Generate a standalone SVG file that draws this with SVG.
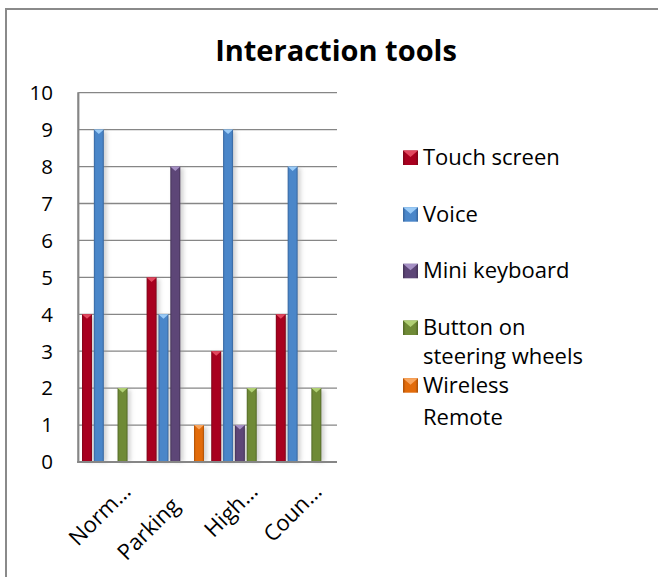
<svg xmlns="http://www.w3.org/2000/svg" width="658" height="577" viewBox="0 0 658 577">
<style>
text{font-family:"Open Sans","Noto Sans","Liberation Sans",sans-serif;fill:#000}
.title{font-size:29px;font-weight:bold;text-anchor:middle}
.ylab{font-size:20.5px;text-anchor:end}
.xlab{font-size:22px;text-anchor:end}
.leg{font-size:22px}
.grid{stroke:#868686;stroke-width:1.3;fill:none}
.axis{stroke:#868686;stroke-width:2.2;fill:none}
.shadow{fill:#9a9a9a;opacity:0.45}
.red{fill:url(#gRed)} .redT{fill:#e2485f}
.blue{fill:url(#gBlue)} .blueT{fill:#9acbf7}
.purple{fill:url(#gPurple)} .purpleT{fill:#a590c4}
.green{fill:url(#gGreen)} .greenT{fill:#b0cf74}
.orange{fill:url(#gOrange)} .orangeT{fill:#f8a55e}
</style>
<defs>
<linearGradient id="gRed" x1="0" x2="1" y1="0" y2="0"><stop offset="0" stop-color="#7d0618"/><stop offset="0.18" stop-color="#a8001f"/><stop offset="0.82" stop-color="#a8001f"/><stop offset="1" stop-color="#7d0618"/></linearGradient>
<linearGradient id="gBlue" x1="0" x2="1" y1="0" y2="0"><stop offset="0" stop-color="#36649c"/><stop offset="0.18" stop-color="#4a86c9"/><stop offset="0.82" stop-color="#4a86c9"/><stop offset="1" stop-color="#36649c"/></linearGradient>
<linearGradient id="gPurple" x1="0" x2="1" y1="0" y2="0"><stop offset="0" stop-color="#433256"/><stop offset="0.18" stop-color="#5d4677"/><stop offset="0.82" stop-color="#5d4677"/><stop offset="1" stop-color="#433256"/></linearGradient>
<linearGradient id="gGreen" x1="0" x2="1" y1="0" y2="0"><stop offset="0" stop-color="#526826"/><stop offset="0.18" stop-color="#6f8a36"/><stop offset="0.82" stop-color="#6f8a36"/><stop offset="1" stop-color="#526826"/></linearGradient>
<linearGradient id="gOrange" x1="0" x2="1" y1="0" y2="0"><stop offset="0" stop-color="#a94f07"/><stop offset="0.18" stop-color="#e26b0a"/><stop offset="0.82" stop-color="#e26b0a"/><stop offset="1" stop-color="#a94f07"/></linearGradient>
<filter id="blur" x="-1" y="-0.2" width="3" height="1.4"><feGaussianBlur stdDeviation="2.2"/></filter>
</defs>
<rect x="0" y="0" width="658" height="577" fill="#fff"/>
<rect x="6" y="9" width="700" height="620" fill="none" stroke="#8a8a8a" stroke-width="2"/>

<text class="title" x="336" y="61">Interaction tools</text>

<g id="gridlines">
<line class="grid" x1="78.3" y1="92.7" x2="337" y2="92.7"/>
<line class="grid" x1="78.3" y1="129.6" x2="337" y2="129.6"/>
<line class="grid" x1="78.3" y1="166.6" x2="337" y2="166.6"/>
<line class="grid" x1="78.3" y1="203.5" x2="337" y2="203.5"/>
<line class="grid" x1="78.3" y1="240.4" x2="337" y2="240.4"/>
<line class="grid" x1="78.3" y1="277.4" x2="337" y2="277.4"/>
<line class="grid" x1="78.3" y1="314.3" x2="337" y2="314.3"/>
<line class="grid" x1="78.3" y1="351.2" x2="337" y2="351.2"/>
<line class="grid" x1="78.3" y1="388.1" x2="337" y2="388.1"/>
<line class="grid" x1="78.3" y1="425.1" x2="337" y2="425.1"/>
</g>

<g id="y-axis-labels">
<text class="ylab" x="53" y="100">10</text>
<text class="ylab" x="53" y="136.9">9</text>
<text class="ylab" x="53" y="173.9">8</text>
<text class="ylab" x="53" y="210.8">7</text>
<text class="ylab" x="53" y="247.7">6</text>
<text class="ylab" x="53" y="284.7">5</text>
<text class="ylab" x="53" y="321.6">4</text>
<text class="ylab" x="53" y="358.5">3</text>
<text class="ylab" x="53" y="395.4">2</text>
<text class="ylab" x="53" y="432.4">1</text>
<text class="ylab" x="53" y="469.3">0</text>
</g>

<g id="bar-shadows" filter="url(#blur)">
<rect class="shadow" x="85" y="316" width="10" height="146"/>
<rect class="shadow" x="96.8" y="131" width="10" height="331"/>
<rect class="shadow" x="120.5" y="390" width="10" height="72"/>
<rect class="shadow" x="149.6" y="279" width="10" height="183"/>
<rect class="shadow" x="161.4" y="316" width="10" height="146"/>
<rect class="shadow" x="173.3" y="168" width="10" height="294"/>
<rect class="shadow" x="197" y="427" width="10" height="35"/>
<rect class="shadow" x="214.2" y="353" width="10" height="109"/>
<rect class="shadow" x="226" y="131" width="10" height="331"/>
<rect class="shadow" x="237.9" y="427" width="10" height="35"/>
<rect class="shadow" x="249.7" y="390" width="10" height="72"/>
<rect class="shadow" x="278.8" y="316" width="10" height="146"/>
<rect class="shadow" x="290.6" y="168" width="10" height="294"/>
<rect class="shadow" x="314.3" y="390" width="10" height="72"/>
</g>

<g id="series-touch-screen">
<rect class="red" x="82" y="314.3" width="10" height="147.7"/><polygon class="redT" points="82,314.3 92,314.3 87,318.8"/>
<rect class="red" x="146.6" y="277.4" width="10" height="184.6"/><polygon class="redT" points="146.6,277.4 156.6,277.4 151.6,281.9"/>
<rect class="red" x="211.2" y="351.2" width="10" height="110.8"/><polygon class="redT" points="211.2,351.2 221.2,351.2 216.2,355.7"/>
<rect class="red" x="275.8" y="314.3" width="10" height="147.7"/><polygon class="redT" points="275.8,314.3 285.8,314.3 280.8,318.8"/>
</g>
<g id="series-voice">
<rect class="blue" x="93.85" y="129.6" width="10" height="332.4"/><polygon class="blueT" points="93.85,129.6 103.85,129.6 98.85,134.1"/>
<rect class="blue" x="158.45" y="314.3" width="10" height="147.7"/><polygon class="blueT" points="158.45,314.3 168.45,314.3 163.45,318.8"/>
<rect class="blue" x="223.05" y="129.6" width="10" height="332.4"/><polygon class="blueT" points="223.05,129.6 233.05,129.6 228.05,134.1"/>
<rect class="blue" x="287.65" y="166.6" width="10" height="295.4"/><polygon class="blueT" points="287.65,166.6 297.65,166.6 292.65,171.1"/>
</g>
<g id="series-mini-keyboard">
<rect class="purple" x="170.3" y="166.6" width="10" height="295.4"/><polygon class="purpleT" points="170.3,166.6 180.3,166.6 175.3,171.1"/>
<rect class="purple" x="234.9" y="425.1" width="10" height="36.9"/><polygon class="purpleT" points="234.9,425.1 244.9,425.1 239.9,429.6"/>
</g>
<g id="series-button-on-steering-wheels">
<rect class="green" x="117.55" y="388.1" width="10" height="73.9"/><polygon class="greenT" points="117.55,388.1 127.55,388.1 122.55,392.6"/>
<rect class="green" x="246.75" y="388.1" width="10" height="73.9"/><polygon class="greenT" points="246.75,388.1 256.75,388.1 251.75,392.6"/>
<rect class="green" x="311.35" y="388.1" width="10" height="73.9"/><polygon class="greenT" points="311.35,388.1 321.35,388.1 316.35,392.6"/>
</g>
<g id="series-wireless-remote">
<rect class="orange" x="194" y="425.1" width="10" height="36.9"/><polygon class="orangeT" points="194,425.1 204,425.1 199,429.6"/>
</g>

<g id="axes">
<line class="axis" x1="78.3" y1="92.2" x2="78.3" y2="463"/>
<line class="axis" x1="77.2" y1="462" x2="337" y2="462"/>
</g>

<g id="x-axis-labels">
<text class="xlab" transform="translate(132,493) rotate(-45)">Norm…</text>
<text class="xlab" transform="translate(181,507) rotate(-45)">Parking</text>
<text class="xlab" transform="translate(259,493) rotate(-45)">High…</text>
<text class="xlab" transform="translate(323,493) rotate(-45)">Coun…</text>
</g>

<g id="legend">
<g id="legend-touch-screen"><rect class="red" x="403" y="150.5" width="15" height="14.5"/><polygon class="redT" points="403,150.5 418,150.5 410.5,157"/><text class="leg" x="423" y="165">Touch screen</text></g>
<g id="legend-voice"><rect class="blue" x="403" y="207.2" width="15" height="14.5"/><polygon class="blueT" points="403,207.2 418,207.2 410.5,213.7"/><text class="leg" x="423" y="221.7">Voice</text></g>
<g id="legend-mini-keyboard"><rect class="purple" x="403" y="263.8" width="15" height="14.5"/><polygon class="purpleT" points="403,263.8 418,263.8 410.5,270.3"/><text class="leg" x="423" y="278.3">Mini keyboard</text></g>
<g id="legend-button"><rect class="green" x="403" y="320.5" width="15" height="14.5"/><polygon class="greenT" points="403,320.5 418,320.5 410.5,327"/><text class="leg" x="423" y="335">Button on</text><text class="leg" x="423" y="364">steering wheels</text></g>
<g id="legend-wireless"><rect class="orange" x="403" y="378.2" width="15" height="14.5"/><polygon class="orangeT" points="403,378.2 418,378.2 410.5,384.7"/><text class="leg" x="423" y="392.7">Wireless</text><text class="leg" x="423" y="425">Remote</text></g>
</g>
</svg>
